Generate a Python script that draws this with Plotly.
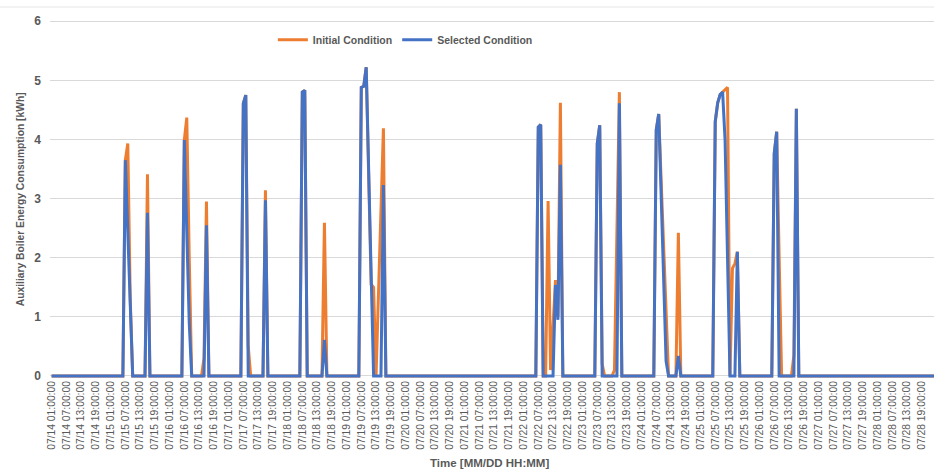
import pandas as pd
import plotly.graph_objects as go

# Hourly timeline: 07/14 01:00 through 07/29 00:00 (360 hourly steps)
start = pd.Timestamp("2021-07-14 01:00:00")
n_hours = 360
timestamps = pd.date_range(start, periods=n_hours, freq="h")
hour_index = list(range(n_hours))

# Hours (index from start) at which the boiler runs, and its consumption [kWh]
initial_hours = [30, 31, 32, 39, 54, 55, 56, 62, 63, 78, 79, 80, 87, 102, 103, 111,
                 126, 127, 128, 129, 130, 131, 133, 134, 135,
                 198, 199, 202, 203, 204, 205, 206, 207,
                 222, 223, 224, 229, 230, 231,
                 246, 247, 248, 249, 250, 255,
                 270, 271, 272, 273, 274, 275, 277, 278, 279,
                 294, 295, 296, 302, 303]
initial_kwh = [3.65, 3.93, 1.30, 3.41, 3.99, 4.37, 2.00, 0.30, 2.95, 4.61, 4.75, 0.50, 3.14, 4.80, 4.83, 2.59,
               4.88, 4.90, 5.22, 3.30, 1.55, 1.50, 1.40, 2.80, 4.19,
               4.21, 4.25, 2.96, 0.10, 0.85, 1.62, 1.00, 4.62,
               3.93, 4.24, 0.20, 0.10, 2.30, 4.80,
               4.16, 4.43, 3.30, 2.20, 1.10, 2.42,
               4.30, 4.62, 4.76, 4.80, 4.84, 4.88, 1.82, 1.90, 2.10,
               3.76, 4.13, 2.00, 0.35, 4.52]

selected_hours = [30, 31, 32, 39, 54, 55, 56, 63, 78, 79, 87, 102, 103, 111,
                  126, 127, 128, 129, 130, 135,
                  198, 199, 205, 206, 207,
                  222, 223, 231,
                  246, 247, 248, 249, 250, 255,
                  270, 271, 272, 273, 274, 275, 279,
                  294, 295, 303]
selected_kwh = [3.65, 2.45, 1.20, 2.76, 3.99, 2.35, 0.90, 2.55, 4.61, 4.75, 2.97, 4.80, 4.83, 0.61,
                4.88, 4.90, 5.22, 3.30, 1.35, 3.23,
                4.21, 4.25, 1.54, 0.95, 3.57,
                3.93, 4.24, 4.61,
                4.16, 4.43, 3.05, 1.66, 0.25, 0.34,
                4.30, 4.62, 4.76, 4.80, 3.99, 2.00, 2.10,
                3.76, 4.13, 4.52]


def full_series(hours, values):
    series = [0.0] * n_hours
    for h, v in zip(hours, values):
        series[h] = v
    return series


initial = full_series(initial_hours, initial_kwh)
selected = full_series(selected_hours, selected_kwh)

# Category labels every 6 hours
tick_vals = hour_index[::6]
tick_text = [timestamps[i].strftime("%m/%d %H:%M:%S") for i in tick_vals]

ORANGE = "#ED7D31"
BLUE = "#4472C4"
GREY_TEXT = "#595959"
FONT = "Liberation Sans"

fig = go.Figure()
fig.add_trace(go.Scatter(x=hour_index, y=initial, mode="lines", name="Initial Condition",
                         line=dict(color=ORANGE, width=3)))
fig.add_trace(go.Scatter(x=hour_index, y=selected, mode="lines", name="Selected Condition",
                         line=dict(color=BLUE, width=3)))

fig.update_layout(
    width=934, height=469,
    margin=dict(l=50, r=0, t=20, b=91),
    paper_bgcolor="white", plot_bgcolor="white",
    font=dict(family=FONT, color=GREY_TEXT),
    showlegend=True,
    legend=dict(orientation="h", x=0.402, xanchor="center", y=0.985, yanchor="top",
                font=dict(size=10.5, color=GREY_TEXT, family=FONT, weight="bold"),
                bgcolor="rgba(0,0,0,0)", tracegroupgap=0, itemwidth=30),
    xaxis=dict(range=[-0.65, 359.0], tickmode="array", tickvals=tick_vals, ticktext=tick_text,
               tickangle=-90, tickfont=dict(size=10.3, color=GREY_TEXT),
               showgrid=False, zeroline=False, showline=False, ticks=""),
    yaxis=dict(range=[-0.034, 6.02], tickvals=[0, 1, 2, 3, 4, 5, 6],
               tickfont=dict(size=12, color=GREY_TEXT, weight="bold"),
               showgrid=True, gridcolor="#D9D9D9", gridwidth=1, zeroline=False,
               showline=False, ticks="", ticklabelstandoff=8),
    annotations=[
        dict(text="Auxiliary Boiler Energy Consumption [kWh]", xref="paper", yref="paper",
             x=-0.0336, y=0.50, xanchor="center", yanchor="middle", textangle=-90,
             showarrow=False, font=dict(size=10.3, color=GREY_TEXT, family=FONT, weight="bold")),
        dict(text="Time [MM/DD HH:MM]", xref="paper", yref="paper",
             x=0.497, y=-0.238, xanchor="center", yanchor="middle",
             showarrow=False, font=dict(size=11.5, color=GREY_TEXT, family=FONT, weight="bold")),
    ],
    shapes=[
        dict(type="line", xref="paper", yref="paper", x0=-0.0566, x1=1.0, y0=1.0363, y1=1.0363,
             line=dict(color="#E6E6E6", width=1)),
    ],
)

fig.write_html("out.html")
